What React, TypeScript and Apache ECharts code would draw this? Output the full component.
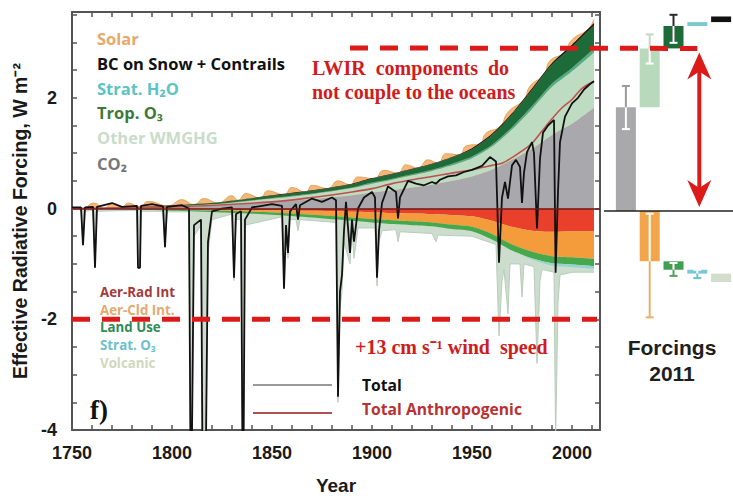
import React, { useEffect, useRef } from 'react';
import * as echarts from 'echarts';

// ---- smooth forcing components (W m-2) ----
const years = [1750, 1775, 1800, 1825, 1850, 1870, 1890, 1900, 1910, 1920, 1930, 1940, 1950, 1960, 1970, 1980, 1990, 2000, 2011];
const co2 = [0, 0.01, 0.03, 0.06, 0.12, 0.17, 0.24, 0.29, 0.33, 0.38, 0.43, 0.5, 0.58, 0.7, 0.88, 1.08, 1.33, 1.53, 1.82];
const otherWmghg = [0, 0, 0.01, 0.03, 0.06, 0.09, 0.13, 0.16, 0.19, 0.22, 0.25, 0.28, 0.33, 0.42, 0.55, 0.72, 0.87, 0.95, 1.0];
const stratH2o = [0, 0, 0, 0, 0.01, 0.01, 0.01, 0.02, 0.02, 0.02, 0.02, 0.03, 0.03, 0.03, 0.04, 0.05, 0.06, 0.06, 0.07];
const tropO3 = [0, 0.01, 0.02, 0.03, 0.04, 0.05, 0.06, 0.07, 0.08, 0.09, 0.1, 0.11, 0.13, 0.18, 0.23, 0.29, 0.34, 0.38, 0.42];
const bcSnow = [0, 0, 0, 0, 0.01, 0.01, 0.01, 0.01, 0.01, 0.01, 0.01, 0.01, 0.02, 0.02, 0.02, 0.03, 0.03, 0.04, 0.04];
const aerRad = [0, 0, -0.01, -0.02, -0.03, -0.04, -0.06, -0.07, -0.08, -0.09, -0.1, -0.12, -0.14, -0.22, -0.33, -0.4, -0.42, -0.41, -0.41];
const aerCld = [0, 0, -0.01, -0.02, -0.04, -0.07, -0.1, -0.12, -0.13, -0.14, -0.15, -0.17, -0.19, -0.24, -0.32, -0.38, -0.44, -0.47, -0.5];
const landUse = [0, -0.01, -0.02, -0.03, -0.04, -0.05, -0.06, -0.06, -0.07, -0.07, -0.07, -0.08, -0.08, -0.1, -0.11, -0.12, -0.13, -0.13, -0.13];
const stratO3 = [0, 0, 0, 0, 0, 0, 0, 0, 0, 0, 0, 0, 0, 0, 0, -0.02, -0.04, -0.05, -0.05];

// ---- visible upper edge of the solar band ----
const solarYears = [1750, 1755, 1761, 1766, 1770, 1775, 1778, 1784, 1788, 1798, 1805, 1811, 1816, 1823, 1830, 1833, 1837, 1844, 1848, 1856, 1860, 1867, 1870, 1878, 1883, 1889, 1893, 1901, 1906, 1913, 1917, 1923, 1928, 1933, 1937, 1944, 1947, 1954, 1957, 1964, 1968, 1976, 1979, 1986, 1989, 1996, 2000, 2008, 2011];
const solarTop = [0.02, 0.0, 0.1, 0.0, 0.1, 0.02, 0.1, 0.03, 0.13, 0.05, 0.16, 0.07, 0.18, 0.1, 0.23, 0.15, 0.27, 0.19, 0.32, 0.25, 0.38, 0.29, 0.42, 0.36, 0.5, 0.43, 0.57, 0.54, 0.69, 0.64, 0.79, 0.73, 0.88, 0.82, 0.99, 0.97, 1.13, 1.17, 1.36, 1.48, 1.74, 1.97, 2.21, 2.42, 2.67, 2.81, 3.05, 3.24, 3.42];

// ---- visible lower edge of the volcanic band ----
const volcYears = [1750, 1754.5, 1755.5, 1756.5, 1760.5, 1761.5, 1762.5, 1782.5, 1783, 1784, 1784.5, 1795.5, 1796.5, 1797.5, 1808.5, 1809.5, 1811, 1814.5, 1815.5, 1816.5, 1818, 1820, 1830, 1831, 1832, 1834.5, 1835.5, 1836.5, 1855, 1856, 1857, 1858, 1859, 1862, 1863, 1864, 1882, 1883, 1884, 1885, 1886, 1889, 1890, 1891, 1893, 1901.5, 1902.5, 1903.5, 1905, 1912, 1913, 1914, 1930, 1932, 1933, 1950, 1962, 1963.5, 1965, 1966, 1968, 1969, 1974, 1975, 1976, 1981, 1982.5, 1984, 1985, 1991, 1991.8, 1993, 1994, 2000, 2011];
const volcEdge = [-0.02, -0.02, -0.66, -0.05, -0.03, -1.07, -0.05, -0.03, -1.07, -1.07, -0.05, -0.05, -0.7, -0.06, -0.06, -6, -0.5, -0.3, -6, -6, -0.8, -0.2, -0.1, -1.3, -0.2, -0.2, -6, -0.3, -0.15, -1.45, -0.5, -0.9, -0.2, -0.2, -0.4, -0.2, -0.25, -3.5, -1.8, -1.5, -0.6, -1.0, -0.4, -0.9, -0.35, -0.35, -1.4, -0.6, -0.4, -0.38, -0.6, -0.42, -0.45, -0.6, -0.48, -0.5, -0.65, -2.3, -1.3, -1.1, -1.9, -1.0, -1.0, -1.6, -1.0, -1.05, -2.8, -1.3, -1.1, -1.15, -4.2, -1.7, -1.2, -1.15, -1.15];

// ---- total forcing (black) ----
const totalYears = [1750, 1754.5, 1755.5, 1756.5, 1760.5, 1761.5, 1762.5, 1770, 1775, 1782.5, 1783, 1784, 1784.5, 1790, 1795.5, 1796.5, 1797.5, 1805, 1808.5, 1809.5, 1811, 1814.5, 1815.5, 1816.5, 1818, 1820, 1825, 1830, 1831, 1832, 1834.5, 1835.5, 1836.5, 1840, 1845, 1850, 1855, 1856, 1857, 1858, 1859, 1862, 1863, 1864, 1870, 1875, 1880, 1882, 1883, 1884, 1885, 1886, 1887, 1889, 1890, 1891, 1893, 1896, 1900, 1901.5, 1902.5, 1903.5, 1905, 1908, 1912, 1913, 1914, 1918, 1922, 1926, 1930, 1932, 1934, 1938, 1942, 1946, 1950, 1955, 1959, 1962, 1963.5, 1965, 1966.5, 1968, 1970, 1972, 1974, 1975, 1976, 1977.5, 1980, 1981, 1982.5, 1984, 1985.5, 1988, 1991, 1991.8, 1993, 1994, 1996.5, 2000, 2003, 2006, 2009, 2011];
const totalVals = [0.02, 0.02, -0.66, 0.02, 0.03, -1.07, 0.03, 0.1, 0.03, 0.05, -1.07, -1.07, 0.05, 0.08, 0.04, -0.7, 0.03, 0.06, 0.0, -6, -0.3, -0.2, -6, -6, -0.6, -0.05, 0.0, 0.02, -1.25, -0.1, -0.05, -6, -0.2, 0.02, 0.05, 0.08, 0.05, -1.45, -0.3, -0.8, -0.05, 0.08, -0.2, 0.06, 0.18, 0.12, 0.2, 0.15, -3.4, -1.5, -1.2, -0.4, 0.12, -0.8, -0.2, -0.6, 0.0, 0.2, 0.3, 0.2, -1.25, -0.4, 0.1, 0.4, 0.3, -0.18, 0.2, 0.5, 0.45, 0.42, 0.48, 0.45, 0.52, 0.58, 0.6, 0.66, 0.7, 0.77, 0.93, 0.85, -0.98, 0.2, 0.48, 0.18, 0.78, 0.88, 0.75, 0.1, 0.65, 1.02, 1.2, 1.0, -0.36, 0.9, 1.37, 1.5, 1.6, -1.16, 0.3, 1.2, 1.66, 1.9, 2.0, 2.15, 2.25, 2.3];

// ---- total anthropogenic (red) ----
const anthroYears = [1750, 1800, 1850, 1870, 1890, 1900, 1910, 1920, 1930, 1940, 1950, 1955, 1960, 1965, 1970, 1975, 1980, 1985, 1990, 1995, 2000, 2005, 2011];
const anthroVals = [0.0, 0.03, 0.12, 0.2, 0.3, 0.36, 0.45, 0.52, 0.58, 0.64, 0.7, 0.74, 0.78, 0.82, 0.92, 1.04, 1.18, 1.4, 1.62, 1.82, 1.97, 2.17, 2.3];

// ---- 2011 forcing bars (right panel) ----
const barCats = ['CO2', 'Other WMGHG', 'Trop. O3', 'Strat. H2O', 'BC snow'];
const posBase = [0, 1.85, 2.9, 3.3, 3.37];
const posVals = [1.85, 1.05, 0.4, 0.07, 0.1];
const posColors = ['#a9a9ab', '#b9d9bd', '#1d6b38', '#7cc8cc', '#111111'];
const negBase = [null, null, -0.9, -1.05, -1.12];
const negVals = [null, -0.9, -0.15, -0.07, -0.15];
const negColors = ['#e8402a', '#f2a54a', '#3f9f4f', '#7cc8d8', '#d3ddcc'];
const errCat = [0, 1, 2, 1, 2, 3];
const errLo = [1.46, 2.63, 3.0, -1.9, -1.16, -1.2];
const errHi = [2.23, 3.15, 3.5, -0.05, -0.93, -1.05];
const errColors = ['#9a9a9a', '#c3d9c3', '#2a2a2a', '#e2b26e', '#58a060', '#6cc0cc'];

const zip = (xs: number[], vs: number[]) => xs.map((x, i) => [x, vs[i]]);

const SANS = '"Liberation Sans", Arial, sans-serif';
const LEG = '"Open Sans", "Noto Sans", sans-serif';
const SERIF = '"Liberation Serif", "Times New Roman", serif';
const AX = '#555';

// stacked areas: value first, year second, so the stack runs on the value dimension
function area(name: string, vals: number[], color: string, stack: string) {
  return {
    type: 'line', name, data: vals.map((v, i) => [v, years[i]]), encode: { x: 1, y: 0 },
    stack, xAxisIndex: 0, yAxisIndex: 0,
    symbol: 'none', showSymbol: false, smooth: 0.25,
    lineStyle: { width: 0 }, areaStyle: { color, opacity: 1 }, z: 2, silent: true,
  };
}

export default function App() {
  const ref = useRef<HTMLDivElement>(null);
  useEffect(() => {
    if (!ref.current) return;
    const chart = echarts.init(ref.current, null, { renderer: 'svg' });
    const axLine = { show: true, onZero: false, lineStyle: { color: AX, width: 2 } };
    const axTick = { show: true, inside: true, length: 5, lineStyle: { color: AX, width: 1.5 } };
    const lblFont = { color: '#1a1a1a', fontSize: 18, fontWeight: 'bold', fontFamily: SANS };

    const barLo: number[] = [];
    const barHi: number[] = [];
    errCat.forEach((c, i) => {
      if (errLo[i] >= 0) { barLo.push(posBase[c]); barHi.push(posBase[c] + posVals[c]); }
      else { const b = negBase[c] ?? 0; barHi.push(b); barLo.push(b + (negVals[c] ?? 0)); }
    });

    const option: any = {
      animation: false,
      grid: [
        { left: 72, top: 12, width: 528, height: 423 },
        { left: 614, top: 12, width: 130, height: 423 },
      ],
      xAxis: [
        {
          gridIndex: 0, type: 'value', min: 1750, max: 2014, interval: 10, position: 'bottom',
          axisLine: axLine, axisTick: axTick, splitLine: { show: false },
          axisLabel: { ...lblFont, margin: 14, formatter: (v: number) => (v % 50 === 0 ? String(v) : '') },
          name: 'Year', nameLocation: 'middle', nameGap: 46,
          nameTextStyle: { color: '#1a1a1a', fontSize: 19, fontWeight: 'bold', fontFamily: SANS },
        },
        {
          gridIndex: 0, type: 'value', min: 1750, max: 2014, interval: 10, position: 'top',
          axisLine: axLine, axisTick: axTick, splitLine: { show: false }, axisLabel: { show: false },
        },
        { gridIndex: 1, type: 'category', data: barCats, show: false },
      ],
      yAxis: [
        {
          gridIndex: 0, type: 'value', min: -4, max: 3.55, interval: 0.5, position: 'left',
          axisLine: axLine, axisTick: axTick, splitLine: { show: false },
          axisLabel: { ...lblFont, margin: 15, formatter: (v: number) => (v % 2 === 0 ? String(v) : '') },
          name: 'Effective Radiative Forcing, W m\u207B\u00B2', nameLocation: 'middle', nameGap: 41,
          nameTextStyle: { color: '#1a1a1a', fontSize: 19.5, fontWeight: 'bold', fontFamily: SANS },
        },
        {
          gridIndex: 0, type: 'value', min: -4, max: 3.55, interval: 0.5, position: 'right',
          axisLine: axLine, axisTick: axTick, splitLine: { show: false }, axisLabel: { show: false },
        },
        { gridIndex: 1, type: 'value', min: -4, max: 3.55, show: false },
      ],
      series: [
        {
          type: 'line', name: 'Solar', data: zip(solarYears, solarTop), xAxisIndex: 0, yAxisIndex: 0,
          symbol: 'none', smooth: 0.5, lineStyle: { color: '#e9a45e', width: 1 },
          areaStyle: { color: '#f2b77a', opacity: 1 }, z: 1, silent: true,
        },
        {
          type: 'line', name: 'Volcanic', data: zip(volcYears, volcEdge), xAxisIndex: 0, yAxisIndex: 0,
          symbol: 'none', lineStyle: { color: '#b9ccbb', width: 1 },
          areaStyle: { color: '#ccdccd', opacity: 1 }, z: 1, silent: true,
        },
        area('CO2', co2, '#a9a9ad', 'pos'),
        area('Other WMGHG', otherWmghg, '#bddcc2', 'pos'),
        area('Strat. H2O', stratH2o, '#4fae8a', 'pos'),
        area('Trop. O3', tropO3, '#1d6b38', 'pos'),
        area('BC on Snow + Contrails', bcSnow, '#151515', 'pos'),
        area('Aer-Rad Int', aerRad, '#e8402a', 'neg'),
        area('Aer-Cld Int.', aerCld, '#f49b3c', 'neg'),
        area('Land Use', landUse, '#47a84b', 'neg'),
        area('Strat. O3', stratO3, '#92d4cf', 'neg'),
        {
          type: 'line', name: 'Total Anthropogenic', data: zip(anthroYears, anthroVals), xAxisIndex: 0, yAxisIndex: 0,
          symbol: 'none', smooth: 0.3, lineStyle: { color: '#c0504d', width: 1.6 }, z: 3, silent: true,
          markLine: {
            silent: true, symbol: 'none', label: { show: false },
            lineStyle: { color: '#6e1c1c', width: 1.6, type: 'solid' }, data: [{ yAxis: 0 }],
          },
        },
        {
          type: 'line', name: 'Total', data: zip(totalYears, totalVals), xAxisIndex: 0, yAxisIndex: 0,
          symbol: 'none', lineStyle: { color: '#111', width: 1.8 }, z: 4, silent: true,
        },
        {
          type: 'bar', name: 'posBase', xAxisIndex: 2, yAxisIndex: 2, stack: 'wf', barWidth: 20,
          data: posBase, itemStyle: { color: 'transparent' }, silent: true,
        },
        {
          type: 'bar', name: 'pos', xAxisIndex: 2, yAxisIndex: 2, stack: 'wf', barWidth: 20,
          data: posVals.map((v, i) => ({ value: v, itemStyle: { color: posColors[i] } })), silent: true,
        },
        {
          type: 'bar', name: 'negBase', xAxisIndex: 2, yAxisIndex: 2, stack: 'wf', barWidth: 20,
          data: negBase.map((v) => (v === null ? '-' : v)), itemStyle: { color: 'transparent' }, silent: true,
        },
        {
          type: 'bar', name: 'neg', xAxisIndex: 2, yAxisIndex: 2, stack: 'wf', barWidth: 20,
          data: negVals.map((v, i) => (v === null ? '-' : { value: v, itemStyle: { color: negColors[i] } })), silent: true,
        },
        {
          type: 'custom', name: 'err', xAxisIndex: 2, yAxisIndex: 2, silent: true, z: 5,
          data: errCat.map((c, i) => [c, errLo[i], errHi[i], barLo[i], barHi[i]]),
          encode: { x: 0, y: [1, 2] },
          renderItem: (params: any, api: any) => {
            const c = api.value(0);
            const lo = api.value(1), hi = api.value(2), bLo = api.value(3), bHi = api.value(4);
            const x = api.coord([c, 0])[0];
            const y = (v: number) => api.coord([c, v])[1];
            const col = errColors[params.dataIndex];
            const kids: any[] = [
              { type: 'line', shape: { x1: x, y1: y(lo), x2: x, y2: y(hi) }, style: { stroke: col, lineWidth: 2 } },
            ];
            const iLo = Math.max(lo, bLo), iHi = Math.min(hi, bHi);
            if (iHi > iLo) kids.push({ type: 'line', shape: { x1: x, y1: y(iLo), x2: x, y2: y(iHi) }, style: { stroke: '#fff', lineWidth: 2 } });
            [lo, hi].forEach((v) => {
              const inside = v >= bLo && v <= bHi;
              kids.push({ type: 'line', shape: { x1: x - 4, y1: y(v), x2: x + 4, y2: y(v) }, style: { stroke: inside ? '#fff' : col, lineWidth: 2 } });
            });
            return { type: 'group', children: kids };
          },
        },
      ],
    };
    chart.setOption(option);

    const p1 = (x: number, y: number) => chart.convertToPixel({ xAxisIndex: 0, yAxisIndex: 0 }, [x, y]) as number[];
    const p2 = (c: string, y: number) => chart.convertToPixel({ xAxisIndex: 2, yAxisIndex: 2 }, [c, y]) as number[];

    const RED = '#dd1a1a';
    const dash = { stroke: RED, lineWidth: 5, lineDash: [18, 12] };
    const topStart = p1(1889, 2.9);
    const topEnd = p2('Strat. H2O', 2.9);
    const botStart = p1(1750, -2);
    const botEnd = p1(2012.5, -2);
    const zeroR = p2('CO2', 0);
    const ax = topEnd[0] + 2;
    const yT = topEnd[1] + 4;
    const yB = zeroR[1] - 4;

    const txt = (text: string, x: number, y: number, fill: string, font: string, align = 'left') => ({
      type: 'text', x, y, silent: true, z: 100,
      style: { text, fill, font, align, verticalAlign: 'middle' },
    });
    const legFont = `bold 16.5px ${LEG}`;
    const smallFont = `bold 13.3px ${LEG}`;
    const totFont = `bold 15.7px ${LEG}`;
    const redFont = `bold 20px ${SERIF}`;

    const graphics: any[] = [
      txt('Solar', 97, 38, '#e8a868', legFont),
      txt('BC on Snow + Contrails', 97, 63, '#111', legFont),
      txt('Strat. H\u2082O', 97, 88, '#5ac4c4', legFont),
      txt('Trop. O\u2083', 97, 112, '#3b7a3b', legFont),
      txt('Other WMGHG', 97, 137, '#c9dcc9', legFont),
      txt('CO\u2082', 97, 163, '#777', legFont),
      txt('Aer-Rad Int', 100, 292, '#a33a3a', smallFont),
      txt('Aer-Cld Int.', 100, 310, '#e3aa70', smallFont),
      txt('Land Use', 100, 327, '#2e8b57', smallFont),
      txt('Strat. O\u2083', 100, 345, '#6cc0d0', smallFont),
      txt('Volcanic', 100, 363, '#d0d8bc', smallFont),
      txt('f)', 90, 410, '#111', `bold 27px ${SERIF}`),
      { type: 'line', silent: true, z: 100, shape: { x1: 253, y1: 385, x2: 332, y2: 385 }, style: { stroke: '#999', lineWidth: 2 } },
      { type: 'line', silent: true, z: 100, shape: { x1: 253, y1: 413, x2: 332, y2: 413 }, style: { stroke: '#b05050', lineWidth: 2 } },
      txt('Total', 362, 385, '#111', totFont),
      txt('Total Anthropogenic', 362, 409, '#b83232', totFont),
      txt('LWIR  components  do', 312, 68, '#d01c1c', redFont),
      txt('not couple to the oceans', 312, 92, '#d01c1c', redFont),
      txt('+13 cm s\u207B\u00B9 wind  speed', 355, 347, '#d01c1c', redFont),
      txt('Forcings', 672, 347, '#1e1e1e', `bold 21px ${SANS}`, 'center'),
      txt('2011', 672, 373, '#1e1e1e', `bold 21px ${SANS}`, 'center'),
      { type: 'line', silent: true, z: 90, shape: { x1: 604, y1: zeroR[1], x2: 733, y2: zeroR[1] }, style: { stroke: '#222', lineWidth: 1.5 } },
      { type: 'line', silent: true, z: 100, shape: { x1: topStart[0], y1: topStart[1], x2: topEnd[0], y2: topEnd[1] }, style: dash },
      { type: 'line', silent: true, z: 100, shape: { x1: botStart[0], y1: botStart[1], x2: botEnd[0], y2: botEnd[1] }, style: dash },
      { type: 'line', silent: true, z: 100, shape: { x1: ax, y1: yT + 18, x2: ax, y2: yB - 18 }, style: { stroke: RED, lineWidth: 4 } },
      { type: 'polygon', silent: true, z: 100, shape: { points: [[ax, yT], [ax + 12, yT + 27], [ax, yT + 19], [ax - 12, yT + 27]] }, style: { fill: RED } },
      { type: 'polygon', silent: true, z: 100, shape: { points: [[ax, yB], [ax + 12, yB - 27], [ax, yB - 19], [ax - 12, yB - 27]] }, style: { fill: RED } },
    ];
    chart.setOption({ graphic: graphics });

    return () => chart.dispose();
  }, []);
  return <div ref={ref} style={{ position: 'fixed', left: 0, top: 0, width: 733, height: 500, background: '#fff' }} />;
}
